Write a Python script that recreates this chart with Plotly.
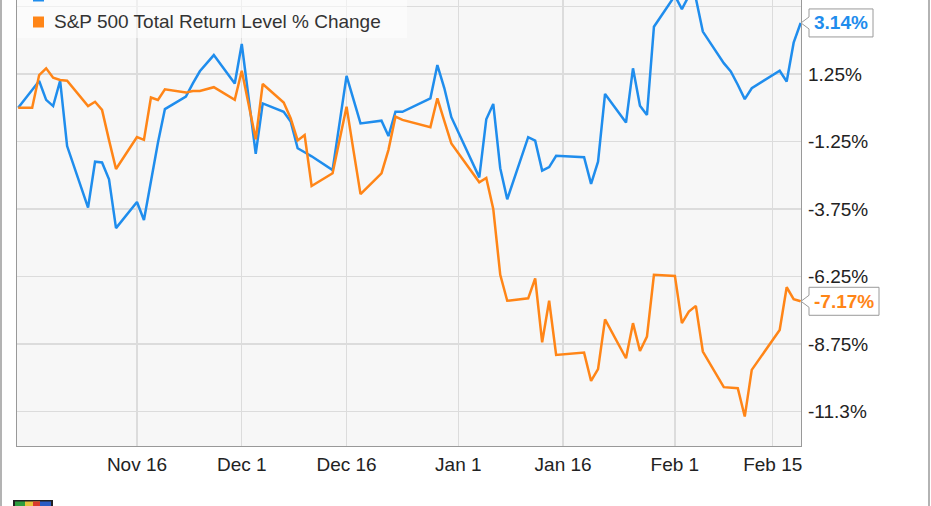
import plotly.graph_objects as go

# ---------------- data ----------------
stock_name = "GIS Total Return"
index_name = "S&P 500 Total Return Level % Change"

stock_dates = [
    "2015-10-30", "2015-11-02", "2015-11-03", "2015-11-04", "2015-11-05", "2015-11-06",
    "2015-11-09", "2015-11-10", "2015-11-11", "2015-11-12", "2015-11-13",
    "2015-11-16", "2015-11-17", "2015-11-18", "2015-11-19", "2015-11-20",
    "2015-11-23", "2015-11-24", "2015-11-25", "2015-11-27",
    "2015-11-30", "2015-12-01", "2015-12-02", "2015-12-03", "2015-12-04",
    "2015-12-07", "2015-12-08", "2015-12-09", "2015-12-10", "2015-12-11",
    "2015-12-14", "2015-12-15", "2015-12-16", "2015-12-17", "2015-12-18",
    "2015-12-21", "2015-12-22", "2015-12-23", "2015-12-24",
    "2015-12-28", "2015-12-29", "2015-12-30", "2015-12-31",
    "2016-01-04", "2016-01-05", "2016-01-06", "2016-01-07", "2016-01-08",
    "2016-01-11", "2016-01-12", "2016-01-13", "2016-01-14", "2016-01-15",
    "2016-01-19", "2016-01-20", "2016-01-21", "2016-01-22",
    "2016-01-25", "2016-01-26", "2016-01-27", "2016-01-28", "2016-01-29",
    "2016-02-01", "2016-02-02", "2016-02-03", "2016-02-04", "2016-02-05",
    "2016-02-08", "2016-02-09", "2016-02-10", "2016-02-11", "2016-02-12",
    "2016-02-16", "2016-02-17", "2016-02-18", "2016-02-19",
]
stock_values = [
    0.00, 0.99, 0.29, 0.06, 1.00, -1.42,
    -3.70, -2.00, -2.03, -2.65, -4.46,
    -3.49, -4.16, -2.70, -1.30, -0.05,
    0.41, 0.90, 1.35, 1.95,
    0.90, 2.36, 0.35, -1.71, 0.16,
    -0.15, -0.51, -1.50, -1.65, -1.80,
    -2.31, -0.55, 1.18, 0.30, -0.58,
    -0.48, -1.05, -0.15, -0.15,
    0.35, 1.58, 0.72, -0.35,
    -2.58, -0.43, 0.14, -2.24, -3.39,
    -1.09, -1.22, -2.33, -2.20, -1.78,
    -1.83, -2.82, -2.00, 0.51,
    -0.55, 1.46, 0.07, -0.27, 3.00,
    4.15, 3.65, 4.15, 4.05, 2.82,
    1.65, 1.34, 0.85, 0.32, 0.72,
    1.37, 0.97, 2.41, 3.14,
]

index_dates = [
    "2015-10-30", "2015-11-01", "2015-11-02", "2015-11-03", "2015-11-04", "2015-11-05", "2015-11-06",
    "2015-11-09", "2015-11-10", "2015-11-11", "2015-11-12", "2015-11-13",
    "2015-11-16", "2015-11-17", "2015-11-18", "2015-11-19", "2015-11-20",
    "2015-11-23", "2015-11-24", "2015-11-25", "2015-11-27",
    "2015-11-30", "2015-12-01", "2015-12-02", "2015-12-03", "2015-12-04",
    "2015-12-07", "2015-12-08", "2015-12-09", "2015-12-10", "2015-12-11",
    "2015-12-14", "2015-12-15", "2015-12-16", "2015-12-17", "2015-12-18",
    "2015-12-21", "2015-12-22", "2015-12-23", "2015-12-24",
    "2015-12-28", "2015-12-29", "2015-12-30", "2015-12-31",
    "2016-01-04", "2016-01-05", "2016-01-06", "2016-01-07", "2016-01-08",
    "2016-01-11", "2016-01-12", "2016-01-13", "2016-01-14", "2016-01-15",
    "2016-01-19", "2016-01-20", "2016-01-21", "2016-01-22",
    "2016-01-25", "2016-01-26", "2016-01-27", "2016-01-28", "2016-01-29",
    "2016-02-01", "2016-02-02", "2016-02-03", "2016-02-04", "2016-02-05",
    "2016-02-08", "2016-02-09", "2016-02-10", "2016-02-11", "2016-02-12",
    "2016-02-16", "2016-02-17", "2016-02-18", "2016-02-19",
]
index_values = [
    0.00, 0.00, 1.21, 1.46, 1.11, 1.03, 1.00,
    0.06, 0.22, -0.08, -1.20, -2.27,
    -1.09, -1.19, 0.38, 0.29, 0.68,
    0.56, 0.62, 0.62, 0.76,
    0.29, 1.37, 0.10, -1.17, 0.88,
    0.19, -0.39, -1.21, -1.01, -2.90,
    -2.43, -1.20, 0.04, -1.60, -3.20,
    -2.43, -1.56, -0.33, -0.45,
    -0.72, 0.35, -0.50, -1.32,
    -2.76, -2.60, -3.75, -6.19, -7.15,
    -7.06, -6.32, -8.69, -7.15, -9.16,
    -9.07, -10.12, -9.68, -7.84,
    -9.28, -7.98, -9.01, -8.48, -6.19,
    -6.23, -7.98, -7.55, -7.34, -9.03,
    -10.35, -10.36, -10.39, -11.44, -9.71,
    -8.23, -6.65, -7.09, -7.17,
]

x_tick_dates = ["2015-11-16", "2015-12-01", "2015-12-16", "2016-01-01",
                "2016-01-16", "2016-02-01", "2016-02-15"]
x_tick_labels = ["Nov 16", "Dec 1", "Dec 16", "Jan 1", "Jan 16", "Feb 1", "Feb 15"]
y_tick_values = [3.75, 1.25, -1.25, -3.75, -6.25, -8.75, -11.25]
y_tick_labels = ["3.75%", "1.25%", "-1.25%", "-3.75%", "-6.25%", "-8.75%", "-11.3%"]

# ---------------- style ----------------
BLUE = "#1f8ded"
ORANGE = "#ff8517"
FONT = "Arial, Liberation Sans, sans-serif"
W, H = 931, 506
ML, MR, MT, MB = 17, 130, 0, 60
PW, PH = W - ML - MR, H - MT - MB
Y_RANGE = [-12.53, 3.99]
X_RANGE = ["2015-10-29 19:52", "2016-02-19 01:12"]
DPP = (Y_RANGE[1] - Y_RANGE[0]) / PH  # data units per pixel


def px_x(p):  # pixel -> paper x
    return (p - ML) / PW


def px_y(p):  # pixel -> paper y
    return (H - MB - p) / PH


fig = go.Figure()
fig.add_trace(go.Scatter(x=stock_dates, y=stock_values, mode="lines", name=stock_name,
                         line=dict(color=BLUE, width=2.5), showlegend=False))
fig.add_trace(go.Scatter(x=index_dates, y=index_values, mode="lines", name=index_name,
                         line=dict(color=ORANGE, width=2.5), showlegend=False))

shapes = []
annotations = []

# legend box + entries (drawn manually: square swatches)
shapes.append(dict(type="rect", xref="paper", yref="paper", x0=0, x1=px_x(407),
                   y0=px_y(38), y1=px_y(-30), fillcolor="rgba(255,255,255,0.55)",
                   line=dict(width=0), layer="above"))
for name, color, cy, sy in [(stock_name, BLUE, -6, -4), (index_name, ORANGE, 21, 22)]:
    shapes.append(dict(type="rect", xref="paper", yref="paper", x0=px_x(33), x1=px_x(44),
                       y0=px_y(sy + 5.5), y1=px_y(sy - 5.5), fillcolor=color,
                       line=dict(width=0), layer="above"))
    annotations.append(dict(text=name, xref="paper", yref="paper", x=px_x(52), y=px_y(cy),
                            xanchor="left", yanchor="middle", showarrow=False,
                            font=dict(family=FONT, size=19, color="#333")))

# end value tags
for vals, color, bw in [(stock_values, BLUE, 64), (index_values, ORANGE, 70)]:
    v = vals[-1]
    notch = 6 * DPP
    half = 14 * DPP
    x_tip, x_base, x_right = 1.0, px_x(809), px_x(809 + bw)
    path = (f"M {x_tip},{v} L {x_base},{v + notch} L {x_base},{v + half} "
            f"L {x_right},{v + half} L {x_right},{v - half} L {x_base},{v - half} "
            f"L {x_base},{v - notch} Z")
    shapes.append(dict(type="path", xref="paper", yref="y", path=path,
                       fillcolor="white", line=dict(color="#9a9a9a", width=1), layer="above"))
    annotations.append(dict(text=f"<b>{v:.2f}%</b>", xref="paper", yref="y",
                            x=(x_base + x_right) / 2, y=v, xanchor="center", yanchor="middle",
                            showarrow=False, font=dict(family=FONT, size=19, color=color)))

# outer frame lines
for xp in (1, 929):
    shapes.append(dict(type="line", xref="paper", yref="paper", x0=px_x(xp), x1=px_x(xp),
                       y0=px_y(H + 5), y1=px_y(-5), line=dict(color="#9a9a9a", width=1.5)))

# small logo (cut at bottom)
logo = [(13, 53, "#222"), (15, 25, "#2e9e3e"), (25, 40, "#e8c33a"), (33, 40, "#d93a2b"),
        (40, 51, "#2a5cc4")]
for x0, x1, c in logo:
    shapes.append(dict(type="rect", xref="paper", yref="paper", x0=px_x(x0), x1=px_x(x1),
                       y0=px_y(H + 5), y1=px_y(500 if c == "#222" else 501.5),
                       fillcolor=c, line=dict(width=0)))

fig.update_layout(
    width=W, height=H,
    margin=dict(l=ML, r=MR, t=MT, b=MB, autoexpand=False),
    paper_bgcolor="white",
    plot_bgcolor="#f7f7f7",
    font=dict(family=FONT, size=19, color="#222"),
    shapes=shapes,
    annotations=annotations,
    showlegend=False,
    hovermode=False,
)
fig.update_xaxes(
    type="date", range=X_RANGE,
    tickvals=x_tick_dates, ticktext=x_tick_labels,
    showgrid=True, gridcolor="#dcdcdc", gridwidth=1.3,
    showline=True, linecolor="#999", linewidth=1.2, mirror=True,
    ticks="", ticklabelstandoff=1, zeroline=False,
    tickfont=dict(family=FONT, size=19, color="#222"),
)
fig.update_yaxes(
    range=Y_RANGE, side="right",
    tickvals=y_tick_values, ticktext=y_tick_labels,
    showgrid=True, gridcolor="#dcdcdc", gridwidth=1.3,
    showline=True, linecolor="#999", linewidth=1.2, mirror=True,
    ticks="", ticklabelstandoff=2, zeroline=False,
    tickfont=dict(family=FONT, size=19, color="#222"),
)

fig.write_html(
    "out.html",
    config={"displayModeBar": False, "staticPlot": True},
    post_script="document.body.style.margin='0';document.body.style.overflow='hidden';",
)
